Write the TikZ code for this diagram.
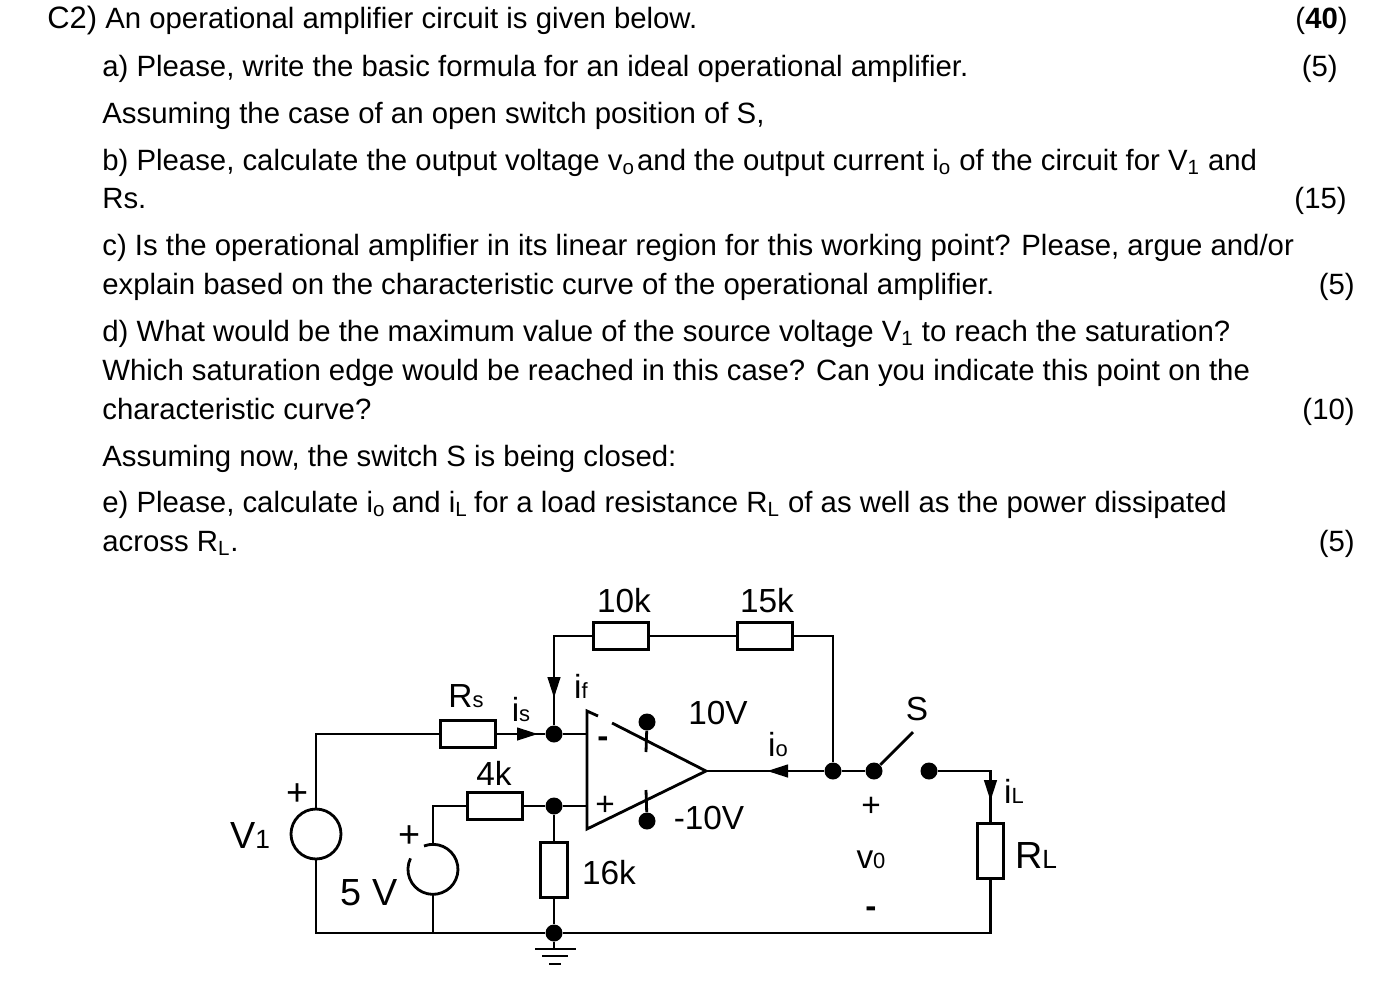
\documentclass[tikz,border=0pt]{standalone}
\usepackage{fontspec}
\setmainfont{Liberation Sans}
\usetikzlibrary{arrows.meta}
\tikzset{
    qline/.style={anchor=base west, inner sep=0pt, font=\fontsize{16.7}{20}\selectfont},
    qmark/.style={anchor=base east, inner sep=0pt, font=\fontsize{16.7}{20}\selectfont},
    lab/.style={inner sep=0pt, font=\fontsize{19}{22}\selectfont},
    biglab/.style={inner sep=0pt, font=\fontsize{21.5}{24}\selectfont},
    wire/.style={line width=1.6pt},
    resH/.style={draw, line width=1.6pt, rectangle, inner sep=0pt, minimum width=1.1cm, minimum height=0.53cm},
    resV/.style={draw, line width=1.6pt, rectangle, inner sep=0pt, minimum width=0.53cm, minimum height=1.1cm},
    dotnode/.style={circle, fill=black, inner sep=0pt, minimum size=0.34cm},
    source/.style={circle, draw, line width=1.6pt, inner sep=0pt, minimum size=1cm},
    curr/.style={line width=1.6pt, -{Triangle[length=0.42cm, width=0.25cm]}}
}
\newcommand{\lsub}[1]{{\fontsize{12.5}{14}\selectfont #1}}
\begin{document}
\begin{tikzpicture}[x=0.02cm, y=-0.02cm]
    \useasboundingbox (0, 0) rectangle (1397, 1005);

    \node[qline] (t0) at (47, 28) {{\fontsize{17.6}{20}\selectfont C2)} An operational amplifier circuit is given below.};
    \node[qline] (t1) at (102, 76) {a) Please, write the basic formula for an ideal operational amplifier.};
    \node[qline] (t2) at (102, 123) {Assuming the case of an open switch position of S,};
    \node[qline] (t3) at (102, 170) {b) Please, calculate the output voltage v\textsubscript{o}\kern-3.4pt\relax{} and the output current i\textsubscript{o} of the circuit for V\textsubscript{1} and};
    \node[qline] (t4) at (102, 208) {Rs.};
    \node[qline] (t5) at (102, 255) {c) Is the operational amplifier in its linear region for this working point? Please, argue and/or};
    \node[qline] (t6) at (102, 294) {explain based on the characteristic curve of the operational amplifier.};
    \node[qline] (t7) at (102, 341) {d) What would be the maximum value of the source voltage V\textsubscript{1} to reach the saturation?};
    \node[qline] (t8) at (102, 380) {Which saturation edge would be reached in this case? Can you indicate this point on the};
    \node[qline] (t9) at (102, 419) {characteristic curve?};
    \node[qline] (t10) at (102, 466) {Assuming now, the switch S is being closed:};
    \node[qline] (t11) at (102, 512) {e) Please, calculate i\textsubscript{o}\kern-1pt\relax{} and i\textsubscript{L}\kern-1pt\relax{} for a load resistance R\textsubscript{L} of as well as the power dissipated};
    \node[qline] (t12) at (102, 551) {across R\textsubscript{L}.};

    \node[qmark] (m0) at (1348, 28) {(\textbf{40})};
    \node[qmark] (m1) at (1338, 76) {(5)};
    \node[qmark] (m2) at (1347, 208) {(15)};
    \node[qmark] (m3) at (1355, 294) {(5)};
    \node[qmark] (m4) at (1355, 419) {(10)};
    \node[qmark] (m5) at (1355, 551) {(5)};

    % resistors and sources
    \node[resH] (rs) at (468, 734) {};
    \node[resH] (r4k) at (495, 806) {};
    \node[resH] (r10k) at (621, 636) {};
    \node[resH] (r15k) at (765, 636) {};
    \node[resV] (r16k) at (554, 870) {};
    \node[resV] (rl) at (990.5, 851) {};
    \node[source] (v1) at (316, 834) {};
    \coordinate (v5) at (433, 869);
    \coordinate (v5top) at (433, 844);
    \coordinate (v5bot) at (433, 894);
    \draw[wire] (v5top) ++(-9, 2) arc[start angle=-111, end angle=206, radius=25];

    % junctions
    \node[dotnode] (jm) at (554, 734) {};
    \node[dotnode] (jp) at (554, 806) {};
    \node[dotnode] (jg) at (554, 933) {};
    \node[dotnode] (jo) at (833, 771) {};
    \node[dotnode] (sa) at (874, 771) {};
    \node[dotnode] (sb) at (929, 771) {};
    \node[dotnode] (vpos) at (647, 722) {};
    \node[dotnode] (vneg) at (647, 821) {};

    % op amp
    \coordinate (otl) at (587, 711);
    \coordinate (otg) at (598, 716);
    \coordinate (otr) at (612, 723);
    \coordinate (obl) at (587, 829);
    \coordinate (oout) at (706, 771);
    \coordinate (oinm) at (587, 734);
    \coordinate (oinp) at (587, 806);
    \draw[wire] (otg) -- (otl) -- (obl) -- (oout) -- (otr);
    \coordinate (vpose) at (646, 752);
    \coordinate (vnege) at (646, 790);
    \draw[wire] (vpos) -- (vpose);
    \draw[wire] (vneg) -- (vnege);

    % corners
    \coordinate (c1) at (316, 734);
    \coordinate (c2) at (316, 933);
    \coordinate (c3) at (433, 806);
    \coordinate (c4) at (433, 933);
    \coordinate (c5) at (554, 636);
    \coordinate (c6) at (833, 636);
    \coordinate (c7) at (990.5, 771);
    \coordinate (c8) at (990.5, 933);
    \coordinate (blade) at (913, 732);

    \draw[wire] (v1) -- (c1) -- (rs);
    \draw[wire] (v1) -- (c2) -- (jg);
    \draw[wire] (rs) -- (jm);
    \draw[wire] (jm) -- (oinm);
    \draw[wire] (jm) -- (c5) -- (r10k);
    \draw[wire] (r10k) -- (r15k);
    \draw[wire] (r15k) -- (c6) -- (jo);
    \draw[wire] (v5top) -- (c3) -- (r4k);
    \draw[wire] (v5bot) -- (c4);
    \draw[wire] (r4k) -- (jp);
    \draw[wire] (jp) -- (oinp);
    \draw[wire] (jp) -- (r16k);
    \draw[wire] (r16k) -- (jg);
    \draw[wire] (oout) -- (jo);
    \draw[wire] (jo) -- (sa);
    \draw[wire] (sa) -- (blade);
    \draw[wire] (sb) -- (c7) -- (rl);
    \draw[wire] (rl) -- (c8) -- (jg);

    % current arrows
    \coordinate (isa) at (516, 734);
    \coordinate (isb) at (538, 734);
    \coordinate (ifa) at (554, 677);
    \coordinate (ifb) at (554, 698);
    \coordinate (ioa) at (788, 771);
    \coordinate (iob) at (767, 771);
    \coordinate (ila) at (990.5, 779);
    \coordinate (ilb) at (990.5, 801);
    \draw[curr] (isa) -- (isb);
    \draw[curr] (ifa) -- (ifb);
    \draw[curr] (ioa) -- (iob);
    \draw[curr] (ila) -- (ilb);

    % ground
    \coordinate (g0) at (554, 949);
    \coordinate (g1a) at (535, 949);
    \coordinate (g1b) at (576, 949);
    \coordinate (g2a) at (542, 956);
    \coordinate (g2b) at (568, 956);
    \coordinate (g3a) at (549, 964);
    \coordinate (g3b) at (561, 964);
    \draw[wire] (jg) -- (g0);
    \draw[wire] (g1a) -- (g1b);
    \draw[wire] (g2a) -- (g2b);
    \draw[wire] (g3a) -- (g3b);

    % labels
    \node[lab] (l10k) at (624, 601) {10k};
    \node[lab] (l15k) at (767, 601) {15k};
    \node[lab] (lrs) at (466, 696) {R\lsub{s}};
    \node[lab] (lis) at (521, 710) {i\lsub{s}};
    \node[lab] (lif) at (581, 686) {i\lsub{f}};
    \node[lab] (l4k) at (494, 773) {4k};
    \node[biglab] (lv1) at (250, 835) {V{\fontsize{15}{16}\selectfont 1}};
    \node[biglab] (l5v) at (369, 893) {5 V};
    \node[lab] (l16k) at (609, 873) {16k};
    \node[lab] (l10v) at (718, 713) {10V};
    \node[lab] (ln10v) at (709, 818) {-10V};
    \node[lab] (lio) at (778, 745) {i\lsub{o}};
    \node[lab] (ls) at (917, 709) {S};
    \node[lab] (lil) at (1014, 791) {i\lsub{L}};
    \node[biglab] (lrl) at (1036, 855) {R{\fontsize{15}{16}\selectfont L}};
    \node[lab] (lvo) at (871, 860) {v\lsub{0}};
    \node[lab] (lvp) at (871, 807) {+};
    \node[lab] (lvm) at (871, 912) {\textbf{-}};
    \node[biglab] (lv1p) at (298, 795) {+};
    \node[biglab] (lv5p) at (410, 837) {+};
    \node[lab] (lom) at (603, 742) {\textbf{-}};
    \node[lab] (lop) at (605, 806) {+};
\end{tikzpicture}
\end{document}
